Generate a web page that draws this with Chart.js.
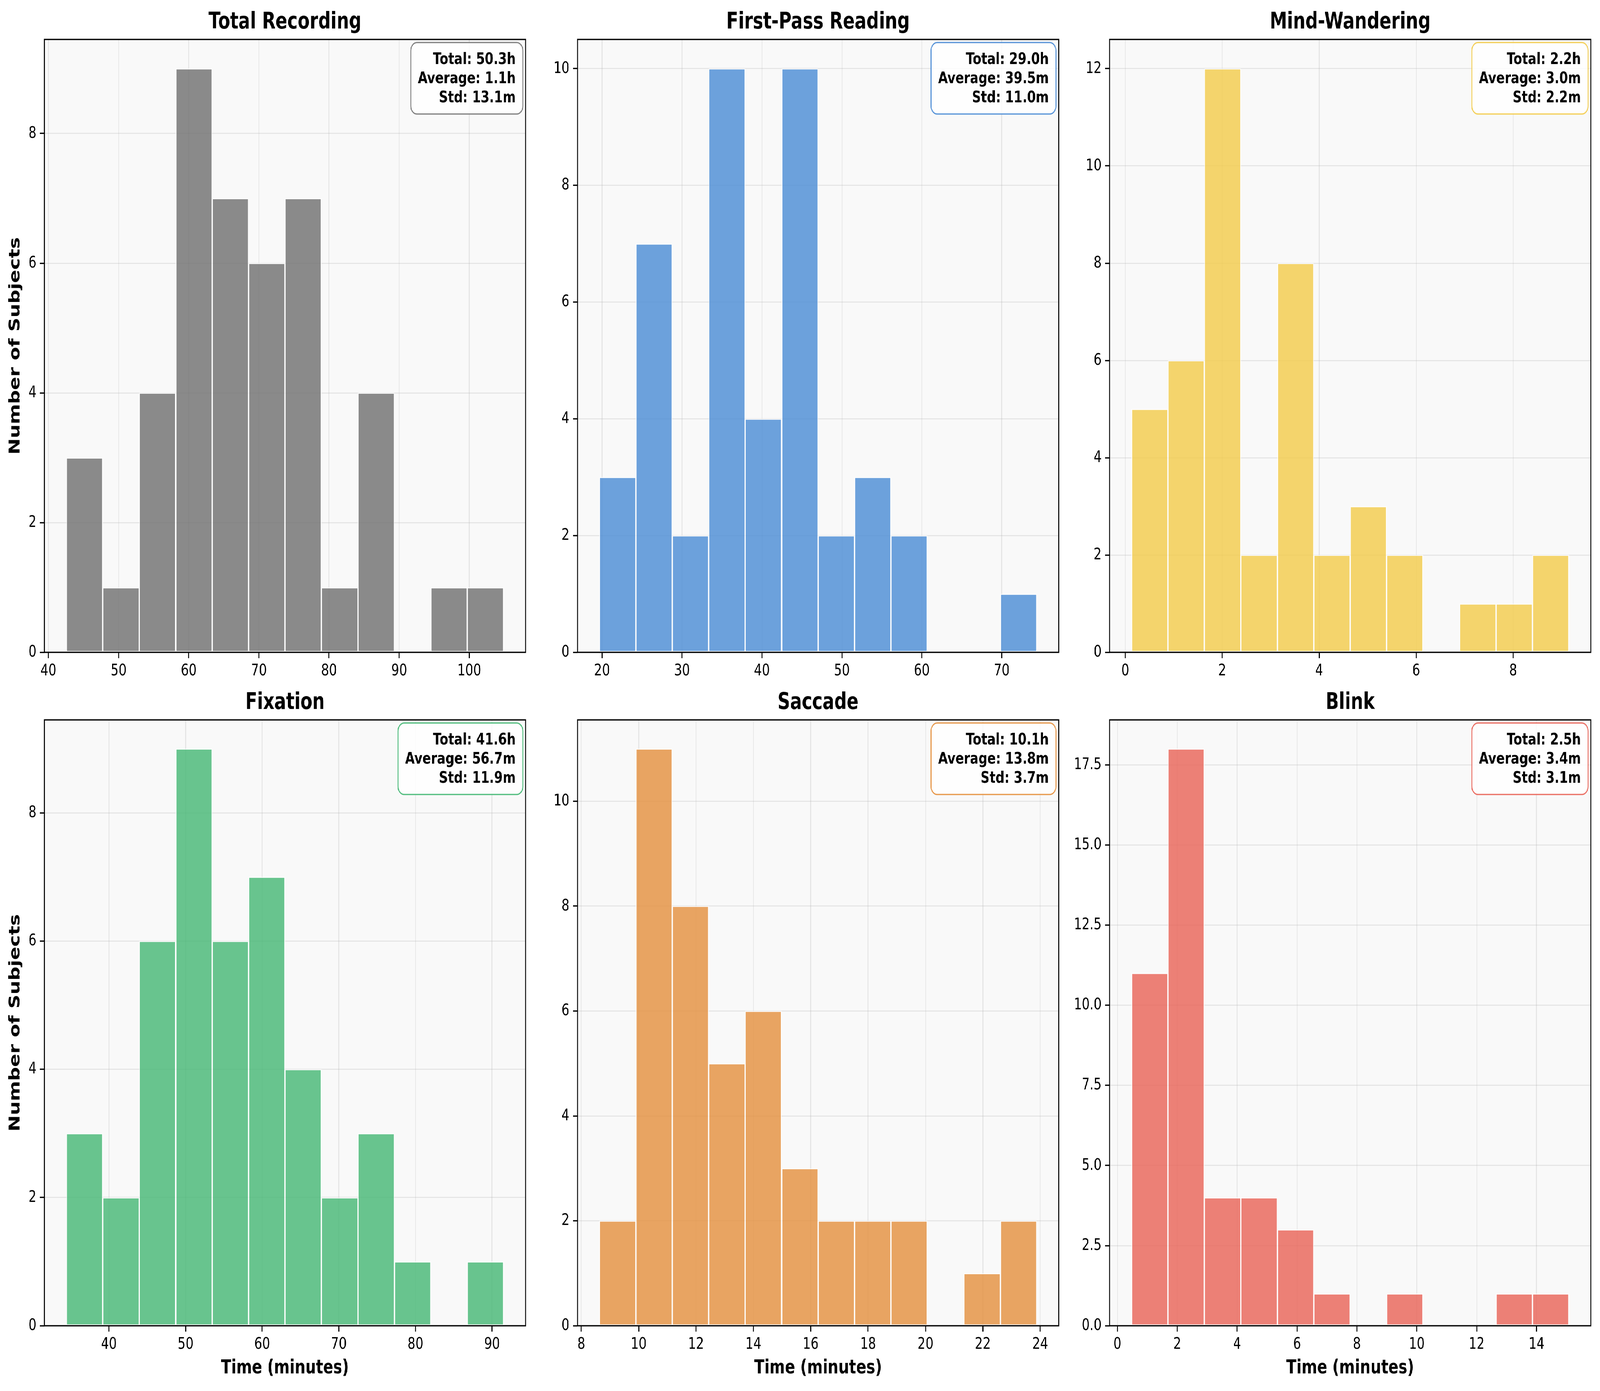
<!DOCTYPE html>
<html>
<head>
<meta charset="utf-8">
<script src="https://cdn.jsdelivr.net/npm/chart.js@4.4.0/dist/chart.umd.min.js"></script>
<style>
  html, body { margin: 0; padding: 0; background: #fff; overflow: hidden; }
  #stage { position: relative; width: 100vw; height: 100vh; overflow: hidden; background: #fff; }
  #wrap { position: absolute; left: 0; top: 0; width: 5361px; height: 3561px; transform-origin: 0 0; background: #fff; }
  #wrap canvas { position: absolute; }
</style>
</head>
<body>
<div id="stage"><div id="wrap"></div></div>
<script>
Chart.defaults.font.family = '"DejaVu Sans", sans-serif';
Chart.defaults.color = '#000';

// panel titles
const panelTitles = ['Total Recording', 'First-Pass Reading', 'Mind-Wandering', 'Fixation', 'Saccade', 'Blink'];

// histogram data: bin range (minutes), counts per bin, ticks, stats text
const totalRange = [42.55, 104.9];
const totalCounts = [3, 1, 4, 9, 7, 6, 7, 1, 4, 0, 1, 1];
const totalXTicks = [40, 50, 60, 70, 80, 90, 100];
const totalYTicks = [0, 2, 4, 6, 8];
const totalStats = ['Total: 50.3h', 'Average: 1.1h', 'Std: 13.1m'];

const readingRange = [19.66, 74.38];
const readingCounts = [3, 7, 2, 10, 4, 10, 2, 3, 2, 0, 0, 1];
const readingXTicks = [20, 30, 40, 50, 60, 70];
const readingYTicks = [0, 2, 4, 6, 8, 10];
const readingStats = ['Total: 29.0h', 'Average: 39.5m', 'Std: 11.0m'];

const mindRange = [0.13, 9.15];
const mindCounts = [5, 6, 12, 2, 8, 2, 3, 2, 0, 1, 1, 2];
const mindXTicks = [0, 2, 4, 6, 8];
const mindYTicks = [0, 2, 4, 6, 8, 10, 12];
const mindStats = ['Total: 2.2h', 'Average: 3.0m', 'Std: 2.2m'];

const fixRange = [34.44, 91.52];
const fixCounts = [3, 2, 6, 9, 6, 7, 4, 2, 3, 1, 0, 1];
const fixXTicks = [40, 50, 60, 70, 80, 90];
const fixYTicks = [0, 2, 4, 6, 8];
const fixStats = ['Total: 41.6h', 'Average: 56.7m', 'Std: 11.9m'];

const saccRange = [8.63, 23.88];
const saccCounts = [2, 11, 8, 5, 6, 3, 2, 2, 2, 0, 1, 2];
const saccXTicks = [8, 10, 12, 14, 16, 18, 20, 22, 24];
const saccYTicks = [0, 2, 4, 6, 8, 10];
const saccStats = ['Total: 10.1h', 'Average: 13.8m', 'Std: 3.7m'];

const blinkRange = [0.47, 15.08];
const blinkCounts = [11, 18, 4, 4, 3, 1, 0, 1, 0, 0, 1, 1];
const blinkXTicks = [0, 2, 4, 6, 8, 10, 12, 14];
const blinkYTicks = [0, 2.5, 5, 7.5, 10, 12.5, 15, 17.5];
const blinkStats = ['Total: 2.5h', 'Average: 3.4m', 'Std: 3.1m'];

// colours
const barFills = ['rgba(110,110,110,0.8)', 'rgba(73,139,213,0.8)', 'rgba(243,203,73,0.8)',
                  'rgba(67,183,115,0.8)', 'rgba(228,143,60,0.8)', 'rgba(233,98,85,0.8)'];
const boxEdges = ['rgba(110,110,110,0.85)', 'rgba(73,139,213,0.9)', 'rgba(243,203,73,0.9)',
                  'rgba(67,183,115,0.9)', 'rgba(228,143,60,0.9)', 'rgba(233,98,85,0.9)'];

const wrap = document.getElementById('wrap');
// stretch the 5361x3561 drawing over the whole viewport
const sx = window.innerWidth / 5361, sy = window.innerHeight / 3561;
wrap.style.transform = 'scale(' + sx + ',' + sy + ')';

const gridColor = 'rgba(176,176,176,0.3)';
const dpr = Math.max(1, Math.max(sx, sy) * (window.devicePixelRatio || 1));

const areaBg = {
  id: 'areaBg',
  beforeDraw(c) {
    const { ctx, chartArea: a } = c;
    ctx.save();
    ctx.fillStyle = '#fff';
    ctx.fillRect(0, 0, c.width, c.height);
    ctx.fillStyle = '#f9f9f9';
    ctx.fillRect(a.left, a.top, a.right - a.left, a.bottom - a.top);
    ctx.restore();
  }
};

const frame = {
  id: 'frame',
  afterDraw(c) {
    const { ctx, chartArea: a } = c;
    ctx.save();
    ctx.strokeStyle = '#000';
    ctx.lineWidth = 3.3;
    ctx.strokeRect(a.left, a.top, a.right - a.left, a.bottom - a.top);
    ctx.restore();
  }
};

function statsBox(lines, edge) {
  return {
    id: 'statsBox',
    afterDraw(c) {
      const { ctx, chartArea: a } = c;
      ctx.save();
      ctx.font = 'bold 41.7px "DejaVu Sans"';
      const w = Math.max(...lines.map(t => ctx.measureText(t).width));
      const textRight = a.right - 33;
      const boxR = textRight + 24, boxL = textRight - w - 24;
      const boxT = a.top + 8, boxB = boxT + 55 + 49 * (lines.length - 1) + 30;
      const r = 21;
      ctx.beginPath();
      ctx.moveTo(boxL + r, boxT);
      ctx.lineTo(boxR - r, boxT);
      ctx.arcTo(boxR, boxT, boxR, boxT + r, r);
      ctx.lineTo(boxR, boxB - r);
      ctx.arcTo(boxR, boxB, boxR - r, boxB, r);
      ctx.lineTo(boxL + r, boxB);
      ctx.arcTo(boxL, boxB, boxL, boxB - r, r);
      ctx.lineTo(boxL, boxT + r);
      ctx.arcTo(boxL, boxT, boxL + r, boxT, r);
      ctx.closePath();
      ctx.fillStyle = 'rgba(255,255,255,0.8)';
      ctx.fill();
      ctx.lineWidth = 3.3;
      ctx.strokeStyle = edge;
      ctx.stroke();
      ctx.fillStyle = '#000';
      ctx.textAlign = 'right';
      ctx.textBaseline = 'alphabetic';
      lines.forEach((t, k) => ctx.fillText(t, textRight, boxT + 55 + 49 * k));
      ctx.restore();
    }
  };
}

function makePanel(i, range, counts, xTicks, yTicks, stats) {
  const row = Math.floor(i / 3), col = i % 3;
  const W = 1790, H = row === 0 ? 1760 : 1801;
  const cv = document.createElement('canvas');
  cv.style.left = [0, 1786, 3569][col] + 'px';
  cv.style.top = (row === 0 ? 0 : 1760) + 'px';
  cv.style.width = W + 'px'; cv.style.height = H + 'px';
  cv.width = W; cv.height = H;
  wrap.appendChild(cv);

  const step = (range[1] - range[0]) / counts.length;
  const points = counts.map((c, k) => ({ x: range[0] + step * (k + 0.5), y: c }));
  const margin = (range[1] - range[0]) * 0.05;
  const decimals = yTicks.some(v => v % 1 !== 0);

  new Chart(cv, {
    type: 'bar',
    data: {
      datasets: [{
        data: points,
        backgroundColor: barFills[i],
        borderColor: 'rgba(255,255,255,0.75)',
        borderWidth: 2.5,
        borderSkipped: false,
        barPercentage: 1,
        categoryPercentage: 1
      }]
    },
    options: {
      responsive: false,
      maintainAspectRatio: false,
      animation: false,
      devicePixelRatio: dpr,
      layout: { padding: { top: row === 0 ? 23 : 5, right: 29, bottom: 0, left: 0 } },
      plugins: {
        legend: { display: false },
        tooltip: { enabled: false },
        title: {
          display: true,
          text: panelTitles[i],
          fullSize: false,
          color: '#000',
          font: { size: 58.3, weight: 'bold', lineHeight: 1.2 },
          padding: { top: 0, bottom: 8 }
        }
      },
      scales: {
        x: {
          type: 'linear',
          min: range[0] - margin,
          max: range[1] + margin,
          offset: false,
          border: { display: false },
          grid: { offset: false, color: gridColor, lineWidth: 2.5, tickColor: '#000', tickWidth: 3.3, tickLength: 15 },
          ticks: { color: '#000', font: { size: 41.7 }, padding: 8, maxRotation: 0, autoSkip: false },
          afterBuildTicks: sc => { sc.ticks = xTicks.map(v => ({ value: v })); },
          afterFit: sc => { sc.height = row === 0 ? 90 : 167; },
          title: {
            display: row === 1,
            text: 'Time (minutes)',
            color: '#000',
            font: { size: 50, weight: 'bold', lineHeight: 1.2 },
            padding: { top: 0, bottom: 28 }
          }
        },
        y: {
          min: 0,
          max: Math.max(...counts) * 1.05,
          border: { display: false },
          grid: { color: gridColor, lineWidth: 2.5, tickColor: '#000', tickWidth: 3.3, tickLength: 15 },
          ticks: {
            color: '#000', font: { size: 41.7 }, padding: 12, autoSkip: false,
            callback: v => decimals ? v.toFixed(1) : String(v)
          },
          afterBuildTicks: sc => { sc.ticks = yTicks.map(v => ({ value: v })); },
          afterFit: sc => { sc.width = 149; },
          title: {
            display: col === 0,
            text: 'Number of Subjects',
            color: '#000',
            font: { size: 50, weight: 'bold', lineHeight: 1.2 },
            padding: { top: 22, bottom: 0 }
          }
        }
      }
    },
    plugins: [areaBg, frame, statsBox(stats, boxEdges[i])]
  });
}

makePanel(0, totalRange, totalCounts, totalXTicks, totalYTicks, totalStats);
makePanel(1, readingRange, readingCounts, readingXTicks, readingYTicks, readingStats);
makePanel(2, mindRange, mindCounts, mindXTicks, mindYTicks, mindStats);
makePanel(3, fixRange, fixCounts, fixXTicks, fixYTicks, fixStats);
makePanel(4, saccRange, saccCounts, saccXTicks, saccYTicks, saccStats);
makePanel(5, blinkRange, blinkCounts, blinkXTicks, blinkYTicks, blinkStats);
</script>
</body>
</html>
